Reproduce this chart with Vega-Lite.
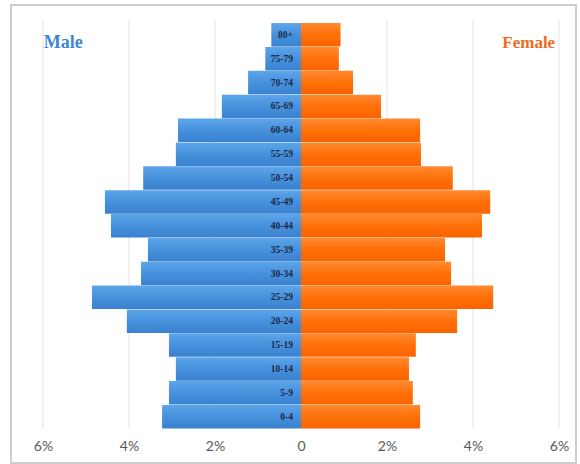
{
  "$schema": "https://vega.github.io/schema/vega-lite/v6.json",
  "width": 565,
  "height": 458,
  "padding": {"left": 11, "top": 5, "right": 4, "bottom": 1},
  "autosize": {"type": "none"},
  "background": "white",
  "config": {"view": {"stroke": "#cdcdcd", "strokeWidth": 2}},
  "data": {
    "values": [
      {"age": "0-4", "idx": 0, "sex": "Male", "pct": -3.23},
      {"age": "0-4", "idx": 0, "sex": "Female", "pct": 2.77},
      {"age": "5-9", "idx": 1, "sex": "Male", "pct": -3.07},
      {"age": "5-9", "idx": 1, "sex": "Female", "pct": 2.60},
      {"age": "10-14", "idx": 2, "sex": "Male", "pct": -2.91},
      {"age": "10-14", "idx": 2, "sex": "Female", "pct": 2.51},
      {"age": "15-19", "idx": 3, "sex": "Male", "pct": -3.07},
      {"age": "15-19", "idx": 3, "sex": "Female", "pct": 2.67},
      {"age": "20-24", "idx": 4, "sex": "Male", "pct": -4.05},
      {"age": "20-24", "idx": 4, "sex": "Female", "pct": 3.63},
      {"age": "25-29", "idx": 5, "sex": "Male", "pct": -4.86},
      {"age": "25-29", "idx": 5, "sex": "Female", "pct": 4.47},
      {"age": "30-34", "idx": 6, "sex": "Male", "pct": -3.72},
      {"age": "30-34", "idx": 6, "sex": "Female", "pct": 3.49},
      {"age": "35-39", "idx": 7, "sex": "Male", "pct": -3.56},
      {"age": "35-39", "idx": 7, "sex": "Female", "pct": 3.35},
      {"age": "40-44", "idx": 8, "sex": "Male", "pct": -4.42},
      {"age": "40-44", "idx": 8, "sex": "Female", "pct": 4.21},
      {"age": "45-49", "idx": 9, "sex": "Male", "pct": -4.56},
      {"age": "45-49", "idx": 9, "sex": "Female", "pct": 4.40},
      {"age": "50-54", "idx": 10, "sex": "Male", "pct": -3.67},
      {"age": "50-54", "idx": 10, "sex": "Female", "pct": 3.53},
      {"age": "55-59", "idx": 11, "sex": "Male", "pct": -2.91},
      {"age": "55-59", "idx": 11, "sex": "Female", "pct": 2.79},
      {"age": "60-64", "idx": 12, "sex": "Male", "pct": -2.86},
      {"age": "60-64", "idx": 12, "sex": "Female", "pct": 2.77},
      {"age": "65-69", "idx": 13, "sex": "Male", "pct": -1.84},
      {"age": "65-69", "idx": 13, "sex": "Female", "pct": 1.86},
      {"age": "70-74", "idx": 14, "sex": "Male", "pct": -1.23},
      {"age": "70-74", "idx": 14, "sex": "Female", "pct": 1.21},
      {"age": "75-79", "idx": 15, "sex": "Male", "pct": -0.83},
      {"age": "75-79", "idx": 15, "sex": "Female", "pct": 0.88},
      {"age": "80+", "idx": 16, "sex": "Male", "pct": -0.69},
      {"age": "80+", "idx": 16, "sex": "Female", "pct": 0.92}
    ]
  },
  "layer": [
    {
      "data": {"values": [{"g": -6}, {"g": -4}, {"g": -2}, {"g": 2}, {"g": 4}, {"g": 6}]},
      "mark": {"type": "rule", "color": "#e2e2e2", "strokeWidth": 1},
      "encoding": {
        "x": {
          "field": "g",
          "type": "quantitative",
          "scale": {"domain": [-6.744, 6.395], "nice": false, "zero": false},
          "axis": {
            "values": [-6, -4, -2, 0, 2, 4, 6],
            "labelExpr": "datum.value == 0 ? '0' : abs(datum.value) + '%'",
            "grid": false,
            "ticks": false,
            "tickSize": 0,
            "domain": false,
            "labelFont": "Lato",
            "labelFontSize": 14,
            "labelColor": "#595959",
            "labelPadding": 0,
            "labelBaseline": "middle",
            "labelFlush": false,
            "offset": -17,
            "title": null
          }
        },
        "y": {
          "datum": -0.5,
          "type": "quantitative",
          "scale": {"domain": [-1.73, 17.04], "nice": false, "zero": false},
          "axis": null
        },
        "y2": {"datum": 16.62}
      }
    },
    {
      "transform": [{"filter": "datum.sex == 'Male'"}],
      "mark": {
        "type": "bar",
        "orient": "horizontal",
        "size": 23.5,
        "color": {
          "gradient": "linear",
          "x1": 0, "y1": 0, "x2": 0, "y2": 1,
          "stops": [
            {"offset": 0, "color": "#5da6ea"},
            {"offset": 0.5, "color": "#4790dc"},
            {"offset": 1, "color": "#3a82cf"}
          ]
        }
      },
      "encoding": {
        "x": {"field": "pct", "type": "quantitative"},
        "y": {"field": "idx", "type": "quantitative"}
      }
    },
    {
      "transform": [{"filter": "datum.sex == 'Female'"}],
      "mark": {
        "type": "bar",
        "orient": "horizontal",
        "size": 23.5,
        "color": {
          "gradient": "linear",
          "x1": 0, "y1": 0, "x2": 0, "y2": 1,
          "stops": [
            {"offset": 0, "color": "#ff8a30"},
            {"offset": 0.5, "color": "#ff7008"},
            {"offset": 1, "color": "#f96300"}
          ]
        }
      },
      "encoding": {
        "x": {"field": "pct", "type": "quantitative"},
        "y": {"field": "idx", "type": "quantitative"}
      }
    },
    {
      "transform": [{"filter": "datum.sex == 'Male'"}],
      "mark": {
        "type": "text",
        "align": "right",
        "baseline": "middle",
        "dx": -8,
        "font": "Liberation Serif",
        "fontWeight": "bold",
        "fontSize": 9.5,
        "color": "#1d2a44"
      },
      "encoding": {
        "x": {"datum": 0, "type": "quantitative"},
        "y": {"field": "idx", "type": "quantitative"},
        "text": {"field": "age"}
      }
    },
    {
      "data": {"values": [{"label": "Male"}]},
      "mark": {
        "type": "text",
        "align": "left",
        "baseline": "middle",
        "font": "Liberation Serif",
        "fontWeight": "bold",
        "fontSize": 18,
        "color": "#3c88d2"
      },
      "encoding": {
        "x": {"datum": -5.98, "type": "quantitative"},
        "y": {"datum": 15.67, "type": "quantitative"},
        "text": {"field": "label"}
      }
    },
    {
      "data": {"values": [{"label": "Female"}]},
      "mark": {
        "type": "text",
        "align": "right",
        "baseline": "middle",
        "font": "Liberation Serif",
        "fontWeight": "bold",
        "fontSize": 17,
        "color": "#f06a1e"
      },
      "encoding": {
        "x": {"datum": 5.91, "type": "quantitative"},
        "y": {"datum": 15.67, "type": "quantitative"},
        "text": {"field": "label"}
      }
    }
  ]
}
